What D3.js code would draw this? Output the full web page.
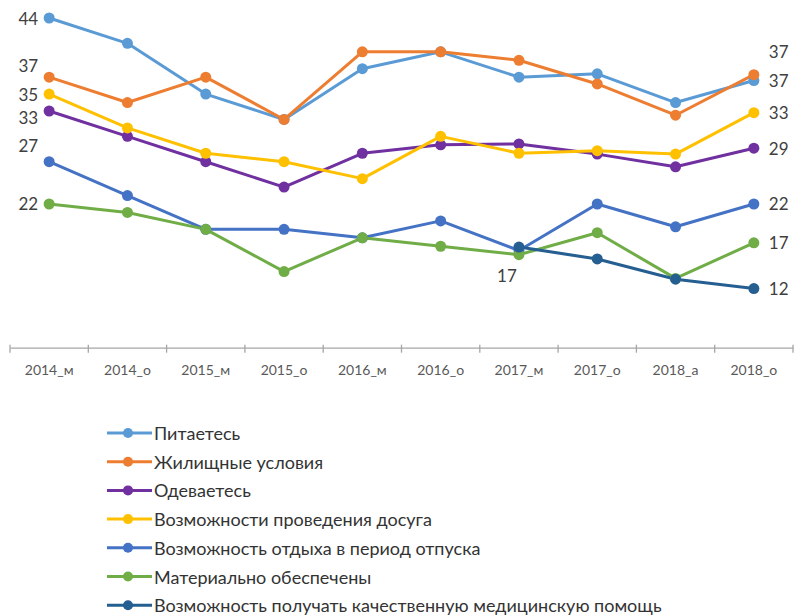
<!DOCTYPE html>
<html><head><meta charset="utf-8">
<script src="https://cdn.jsdelivr.net/npm/d3@7"></script>
<style>html,body{margin:0;padding:0;background:#fff;}</style>
</head><body>
<svg id="chart" width="796" height="616"></svg>
<script>
const categories = ["2014_м","2014_о","2015_м","2015_о","2016_м","2016_о","2017_м","2017_о","2018_а","2018_о"];
const seriesNames = ["Питаетесь","Жилищные условия","Одеваетесь","Возможности проведения досуга","Возможность отдыха в период отпуска","Материально обеспечены","Возможность получать качественную медицинскую помощь"];
const pitaetes   = [44, 41, 35, 32, 38, 40, 37, 37.4, 34, 36.6];
const zhilische  = [37, 34, 37, 32, 40, 40, 39, 36.2, 32.5, 37.3];
const odevaetes  = [33, 30, 27, 24, 28, 29, 29.1, 27.9, 26.4, 28.6];
const dosug      = [35, 31, 28, 27, 25, 30, 28, 28.3, 27.9, 32.8];
const otdyh      = [27, 23, 19, 19, 18, 20, 16.5, 22, 19.3, 22];
const material   = [22, 21, 19, 14, 18, 17, 16, 18.6, 13.2, 17.4];
const medicina   = [null, null, null, null, null, null, 16.9, 15.5, 13.1, 12];
const seriesValues = [pitaetes, zhilische, odevaetes, dosug, otdyh, material, medicina];
const colors = ["#5B9BD5","#ED7D31","#7030A0","#FFC000","#4472C4","#70AD47","#255E91"];
// data labels: [series, point index, side, dy]
const labelSpecs = [
  [0,0,"L",0],[1,0,"L",-12],[3,0,"L",0],[2,0,"L",7],[4,0,"L",-16],[5,0,"L",0],
  [1,9,"R",-23],[0,9,"R",0],[3,9,"R",0],[2,9,"R",0],[4,9,"R",0],[5,9,"R",0],[6,9,"R",0],
  [6,6,"B",28]
];

const svg = d3.select("#chart");
const x = d3.scaleBand().domain(categories).range([10, 793]);
const y = d3.scaleLinear().domain([5, 45]).range([347.7, 9.55]);
const cx = c => x(c) + x.bandwidth()/2;

// axis
const axisG = svg.append("g").attr("transform", `translate(0,${y(5)})`)
  .call(d3.axisBottom(x).tickSize(0).tickPadding(17));
axisG.select(".domain").attr("stroke", "#a6a6a6").attr("stroke-width", 1.3);
axisG.selectAll(".tick text").attr("font-family", "Lato, 'Open Sans', sans-serif")
  .attr("font-size", 14).attr("fill", "#595959");
const bounds = categories.map(c => x(c)).concat([x.range()[1]]);
axisG.selectAll(".bnd").data(bounds).enter().append("line")
  .attr("x1", d => d).attr("x2", d => d).attr("y1", -3).attr("y2", 5)
  .attr("stroke", "#a6a6a6").attr("stroke-width", 1.3);

// lines
const line = d3.line().defined(d => d.v != null).x(d => cx(d.c)).y(d => y(d.v));
seriesValues.forEach((vals, i) => {
  const pts = vals.map((v, j) => ({c: categories[j], v}));
  svg.append("path").datum(pts).attr("d", line).attr("fill", "none")
    .attr("stroke", colors[i]).attr("stroke-width", 3).attr("stroke-linejoin", "round");
});
seriesValues.forEach((vals, i) => {
  const pts = vals.map((v, j) => ({c: categories[j], v})).filter(d => d.v != null);
  svg.append("g").selectAll("circle").data(pts).enter().append("circle")
    .attr("cx", d => cx(d.c)).attr("cy", d => y(d.v)).attr("r", 5.5).attr("fill", colors[i]);
});

// data labels
labelSpecs.forEach(([s, p, side, dy]) => {
  const v = seriesValues[s][p];
  const px = cx(categories[p]);
  const t = svg.append("text").text(Math.round(v))
    .attr("font-family", "Lato, 'Open Sans', sans-serif").attr("font-size", 17)
    .attr("fill", "#404040").attr("dominant-baseline", "central")
    .attr("y", y(v) + dy);
  if (side === "L") t.attr("x", px - 11).attr("text-anchor", "end");
  else if (side === "R") t.attr("x", px + 15).attr("text-anchor", "start");
  else t.attr("x", px - 12).attr("text-anchor", "middle");
});

// legend
const lg = svg.append("g").attr("transform", "translate(107,433)");
seriesNames.forEach((n, i) => {
  const g = lg.append("g").attr("transform", `translate(0,${i * 28.7})`);
  g.append("line").attr("x1", 0).attr("x2", 45).attr("stroke", colors[i]).attr("stroke-width", 3);
  g.append("circle").attr("cx", 21).attr("r", 5).attr("fill", colors[i]);
  g.append("text").attr("x", 47).attr("dominant-baseline", "central").text(n)
    .attr("font-family", "Lato, 'Open Sans', sans-serif").attr("font-size", 18).attr("fill", "#333");
});
</script>
</body></html>
